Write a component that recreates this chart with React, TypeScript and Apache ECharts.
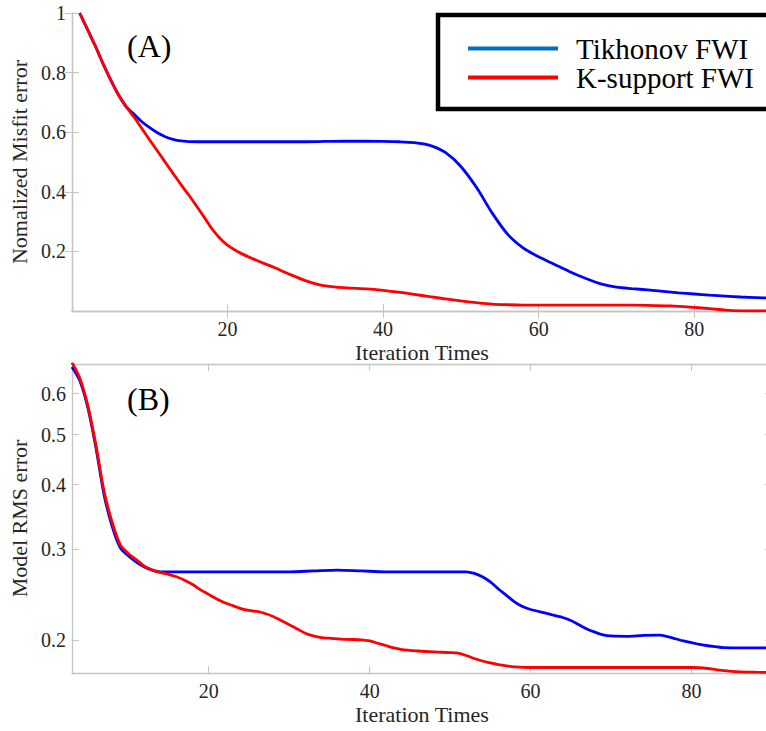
import React, { useEffect, useRef } from "react";
import * as echarts from "echarts";

// ---- Panel (A): normalized misfit error ----
const tikTopX = [1, 2, 3, 4, 5, 6, 7, 8, 9, 10, 11, 12, 13, 14, 16, 20, 25, 30, 35, 40, 42, 44, 46, 48, 50, 52, 54, 56, 58, 60, 62, 64, 66, 68, 70, 72, 74, 76, 78, 80, 82, 84, 86, 88, 90];
const tikTopY = [1.0, 0.945, 0.89, 0.83, 0.775, 0.725, 0.685, 0.66, 0.635, 0.615, 0.598, 0.585, 0.576, 0.571, 0.568, 0.568, 0.568, 0.568, 0.570, 0.569, 0.568, 0.565, 0.556, 0.532, 0.485, 0.415, 0.330, 0.258, 0.212, 0.182, 0.157, 0.132, 0.110, 0.091, 0.080, 0.075, 0.071, 0.066, 0.061, 0.057, 0.053, 0.050, 0.047, 0.045, 0.043];
const ksTopX = [1, 2, 3, 4, 5, 6, 7, 8, 9, 10, 11, 12, 13, 14, 15, 16, 17, 18, 19, 20, 21, 22, 24, 26, 28, 30, 32, 34, 36, 38, 40, 42, 44, 46, 48, 50, 52, 54, 56, 58, 60, 65, 70, 74, 77, 80, 82, 84, 86, 88, 90];
const ksTopY = [1.0, 0.945, 0.89, 0.83, 0.775, 0.725, 0.685, 0.65, 0.612, 0.574, 0.537, 0.499, 0.462, 0.425, 0.39, 0.353, 0.315, 0.276, 0.245, 0.221, 0.204, 0.19, 0.167, 0.146, 0.123, 0.102, 0.087, 0.080, 0.077, 0.074, 0.069, 0.063, 0.056, 0.048, 0.041, 0.034, 0.028, 0.023, 0.021, 0.020, 0.020, 0.020, 0.020, 0.019, 0.017, 0.012, 0.008, 0.003, 0.0005, 0.0, 0.001];

// ---- Panel (B): model RMS error (log scale) ----
const tikBotX = [3, 4, 5, 6, 7, 8, 9, 10, 11, 12, 13, 14, 16, 20, 25, 30, 33, 36, 39, 42, 46, 50, 52, 53, 54, 55, 56, 57, 58, 59, 60, 62, 64, 65, 66, 67, 68, 69, 70, 72, 74, 76, 77, 78, 79, 80, 81, 82, 83, 84, 86, 90];
const tikBotY = [0.676, 0.635, 0.562, 0.470, 0.382, 0.332, 0.302, 0.291, 0.283, 0.277, 0.273, 0.271, 0.271, 0.271, 0.271, 0.271, 0.272, 0.273, 0.272, 0.271, 0.271, 0.271, 0.271, 0.269, 0.265, 0.259, 0.251, 0.244, 0.237, 0.232, 0.229, 0.225, 0.221, 0.218, 0.214, 0.210, 0.207, 0.2045, 0.2035, 0.2032, 0.204, 0.2042, 0.203, 0.201, 0.199, 0.1975, 0.196, 0.1948, 0.194, 0.1932, 0.1929, 0.1929];
const ksBotX = [3, 4, 5, 6, 7, 8, 9, 10, 11, 12, 13, 14, 15, 16, 17, 18, 19, 20, 21, 22, 23, 24, 25, 26, 27, 28, 29, 30, 31, 32, 33, 34, 35, 37, 39, 40, 41, 42, 43, 44, 46, 48, 50, 51, 52, 53, 54, 55, 56, 57, 58, 60, 70, 80, 81, 82, 83, 84, 85, 86, 88, 90];
const ksBotY = [0.69, 0.642, 0.567, 0.476, 0.388, 0.338, 0.306, 0.294, 0.286, 0.278, 0.273, 0.270, 0.268, 0.265, 0.261, 0.256, 0.250, 0.245, 0.240, 0.236, 0.233, 0.230, 0.228, 0.227, 0.225, 0.222, 0.218, 0.214, 0.210, 0.206, 0.2035, 0.202, 0.2015, 0.2005, 0.2, 0.199, 0.197, 0.195, 0.193, 0.1915, 0.1903, 0.1895, 0.189, 0.1885, 0.1865, 0.184, 0.182, 0.1805, 0.179, 0.178, 0.1773, 0.1768, 0.1768, 0.1768, 0.1766, 0.176, 0.1752, 0.1744, 0.1737, 0.1733, 0.1731, 0.1730];

const seriesNames = ["Tikhonov FWI", "K-support FWI"];
const xTicks = [20, 40, 60, 80];
const topYTicks = [0.2, 0.4, 0.6, 0.8, 1];
const botYTicks = [0.2, 0.3, 0.4, 0.5, 0.6];
const botYRange = [0.1725, 0.685];
const panelLabels = ["(A)", "(B)"];

const FONT = "'Liberation Serif', serif";
const AXIS_GRAY = "#c4c4c4";
const TEXT = "#262626";

const pairs = (xs: number[], ys: number[], f: (v: number) => number = (v) => v) =>
  xs.map((x, i) => [x, f(ys[i])]);

export default function App() {
  const ref = useRef<HTMLDivElement>(null);
  useEffect(() => {
    if (!ref.current) return;
    const chart = echarts.init(ref.current, null, { renderer: "svg" });
    const lg = (v: number) => Math.log10(v);

    const tickCommon = { show: true, inside: true, length: 7, lineStyle: { color: AXIS_GRAY, width: 1 } };
    const lineCommon = { show: true, lineStyle: { color: AXIS_GRAY, width: 1.3 } };
    const labelCommon = { fontFamily: FONT, fontSize: 20, color: TEXT };
    const nameCommon = { fontFamily: FONT, fontSize: 22, color: TEXT };

    const lineSeries = (name: string, xi: number, yi: number, data: number[][], color: string) => ({
      name, type: "line", xAxisIndex: xi, yAxisIndex: yi, data, showSymbol: false, smooth: 0.3,
      lineStyle: { color, width: 2.8 }, itemStyle: { color },
    });

    const option: any = {
      animation: false,
      backgroundColor: "#fff",
      grid: [
        { left: 64, top: 13, width: 708, height: 298, containLabel: false },
        { left: 64, top: 364, width: 708, height: 309, containLabel: false },
      ],
      xAxis: [
        {
          type: "value", gridIndex: 0, min: 0, max: 90,
          axisLine: lineCommon,
          axisTick: { ...tickCommon, customValues: xTicks },
          axisLabel: { ...labelCommon, margin: 8, customValues: xTicks },
          splitLine: { show: false },
          name: "Iteration Times", nameLocation: "middle", nameGap: 30, nameTextStyle: nameCommon,
        },
        {
          type: "value", gridIndex: 0, min: 0, max: 90, position: "top",
          axisLine: lineCommon,
          axisTick: { ...tickCommon, customValues: xTicks },
          axisLabel: { show: false },
          splitLine: { show: false },
        },
        {
          type: "value", gridIndex: 1, min: 3, max: 90,
          axisLine: lineCommon,
          axisTick: { ...tickCommon, customValues: xTicks },
          axisLabel: { ...labelCommon, margin: 8, customValues: xTicks },
          splitLine: { show: false },
          name: "Iteration Times", nameLocation: "middle", nameGap: 30, nameTextStyle: nameCommon,
        },
        {
          type: "value", gridIndex: 1, min: 3, max: 90, position: "top",
          axisLine: lineCommon,
          axisTick: { ...tickCommon, customValues: xTicks },
          axisLabel: { show: false },
          splitLine: { show: false },
        },
      ],
      yAxis: [
        {
          type: "value", gridIndex: 0, min: 0, max: 1,
          axisLine: lineCommon,
          axisTick: { ...tickCommon, customValues: topYTicks },
          axisLabel: { ...labelCommon, margin: 6, customValues: topYTicks, formatter: (v: number) => String(Math.round(v * 10) / 10) },
          splitLine: { show: false },
          name: "Nomalized Misfit error", nameLocation: "middle", nameRotate: 90, nameGap: 31, nameTextStyle: nameCommon,
        },
        {
          type: "value", gridIndex: 0, min: 0, max: 1, position: "right",
          axisLine: lineCommon,
          axisTick: { ...tickCommon, customValues: topYTicks },
          axisLabel: { show: false },
          splitLine: { show: false },
        },
        {
          type: "value", gridIndex: 1, min: lg(botYRange[0]), max: lg(botYRange[1]),
          axisLine: lineCommon,
          axisTick: { ...tickCommon, customValues: botYTicks.map(lg) },
          axisLabel: { ...labelCommon, margin: 6, customValues: botYTicks.map(lg), formatter: (v: number) => Math.pow(10, v).toFixed(1) },
          splitLine: { show: false },
          name: "Model RMS error", nameLocation: "middle", nameRotate: 90, nameGap: 31, nameTextStyle: nameCommon,
        },
        {
          type: "value", gridIndex: 1, min: lg(botYRange[0]), max: lg(botYRange[1]), position: "right",
          axisLine: lineCommon,
          axisTick: { ...tickCommon, customValues: botYTicks.map(lg) },
          axisLabel: { show: false },
          splitLine: { show: false },
        },
      ],
      legend: {
        left: 438, top: 15, orient: "vertical",
        icon: "rect", itemWidth: 90, itemHeight: 4, itemGap: 0,
        padding: [19, 20, 17, 30],
        borderColor: "#000", borderWidth: 4.5, backgroundColor: "#fff",
        textStyle: { fontFamily: FONT, fontSize: 29, color: "#000", lineHeight: 28.4, padding: [0, 0, 0, 13] },
        selectedMode: false,
        z: 10,
        data: [
          { name: seriesNames[0], itemStyle: { color: "#0072BD" } },
          { name: seriesNames[1], itemStyle: { color: "#ff0000" } },
        ],
      },
      graphic: [
        { type: "text", left: 127, top: 30, style: { text: panelLabels[0], font: `32px ${FONT}`, fill: "#000" }, z: 5 },
        { type: "text", left: 127, top: 383, style: { text: panelLabels[1], font: `32px ${FONT}`, fill: "#000" }, z: 5 },
      ],
      series: [
        lineSeries(seriesNames[0], 0, 0, pairs(tikTopX, tikTopY), "#0000ff"),
        lineSeries(seriesNames[1], 0, 0, pairs(ksTopX, ksTopY), "#ff0000"),
        lineSeries(seriesNames[0], 2, 2, pairs(tikBotX, tikBotY, lg), "#0000ff"),
        lineSeries(seriesNames[1], 2, 2, pairs(ksBotX, ksBotY, lg), "#ff0000"),
      ],
    };
    chart.setOption(option);
    return () => chart.dispose();
  }, []);

  return (
    <div style={{ position: "absolute", left: 0, top: 0, width: 766, height: 731, overflow: "hidden", background: "#fff" }}>
      <div ref={ref} style={{ width: 772, height: 731 }} />
    </div>
  );
}
